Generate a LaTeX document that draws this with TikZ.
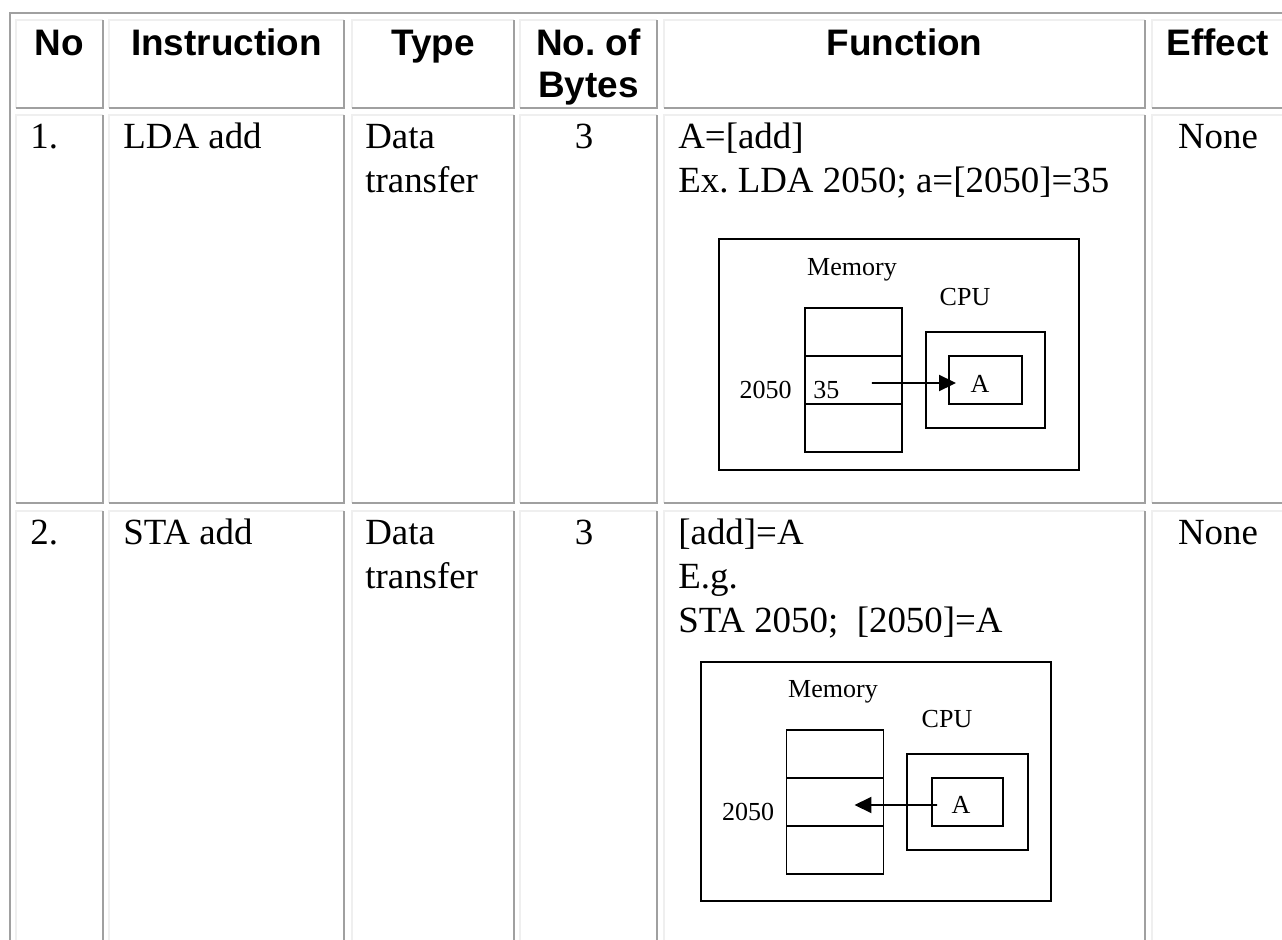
\documentclass[tikz,border=0pt]{standalone}
\usepackage{fontspec}
\setmainfont{Liberation Serif}
\setsansfont{Liberation Sans}
\usepackage{tikz}
\usetikzlibrary{arrows.meta, positioning, calc}
\definecolor{Ink}{HTML}{000000}
\definecolor{Edge}{HTML}{A0A0A0}
\definecolor{Lite}{HTML}{EFEFEF}

\begin{document}
\begin{tikzpicture}[
  x=0.02cm, y=-0.02cm,
  cellhi/.style={draw=Lite, line width=1.1pt},
  celllo/.style={draw=Edge, line width=1.1pt},
  head/.style={font=\sffamily\bfseries\fontsize{21}{23.8}\selectfont, align=center, anchor=base, inner sep=0pt},
  body/.style={font=\fontsize{21}{25}\selectfont, align=left, anchor=base west, inner sep=0pt},
  dlabel/.style={font=\fontsize{14.8}{17}\selectfont, anchor=base, inner sep=0pt},
  dbox/.style={draw=Ink, line width=1.1pt, inner sep=0pt},
  memcell/.style={dbox, minimum width=1.94cm, minimum height=0.96cm, outer sep=0pt},
  arrow/.style={-{Triangle[length=0.34cm, width=0.32cm]}, line width=1.1pt, draw=Ink}
]
\useasboundingbox (0,0) rectangle (1282,940);

\draw[celllo] (10,960) -- (10,13) -- (1300,13);
\foreach \xa/\xb in {16/103, 109/344, 352/514, 520/657, 664/1145, 1152/1300}
  \foreach \ya/\yb in {20/108, 115/503, 511/960}{
    \draw[cellhi] (\xa,\yb) -- (\xa,\ya) -- (\xb,\ya);
    \draw[celllo] (\xb,\ya) -- (\xb,\yb) -- (\xa,\yb);
  }

% base anchor of a multi-line node sits on its last line
\node[head] (hNo) at (59.5,55) {No};
\node[head] (hIns) at (226.5,55) {Instruction};
\node[head] (hType) at (433,55) {Type};
\node[head] (hBytes) at (588.5,97) {No.\ of\\Bytes};
\node[head] (hFunc) at (904.5,55) {Function};
\node[head] (hEff) at (1218,55) {Effect};

\node[body] (no1) at (30,148) {1.};
\node[body] (ins1) at (123,148) {LDA add};
\node[body] (type1) at (365,192) {Data\\transfer};
\node[body, anchor=base] (byte1) at (584,148) {3};
\node[body] (fun1) at (678,192) {A=[add]\\Ex.\ LDA 2050; a=[2050]=35};
\node[body, anchor=base] (eff1) at (1218,148) {None};

\node[body] (no2) at (30,544) {2.};
\node[body] (ins2) at (123,544) {STA add};
\node[body] (type2) at (365,588) {Data\\transfer};
\node[body, anchor=base] (byte2) at (584,544) {3};
\node[body] (fun2) at (678,632) {[add]=A\\E.g.\\STA 2050;~ [2050]=A};
\node[body, anchor=base] (eff2) at (1218,544) {None};

\node[dbox, minimum width=7.2cm, minimum height=4.62cm] (frameA) at (899,354.5) {};
\node[dlabel] (memLblA) at (852,275) {Memory};
\node[dlabel] (cpuLblA) at (965,305) {CPU};
\node[memcell] (memA1) at (853.5,332) {};
\node[memcell, below=0pt of memA1] (memA2) {};
\node[memcell, below=0pt of memA2] (memA3) {};
\node[dlabel] (addrA) at (765.5,398) {2050};
\node[dlabel, anchor=base west] (valA) at (813,398) {35};
\node[dbox, minimum width=2.38cm, minimum height=1.92cm] (cpuA) at (985.5,380) {};
\node[dbox, minimum width=1.46cm, minimum height=0.96cm] (regA) at (985.5,380) {};
\node[dlabel] (accA) at (980,392) {A};
\draw[arrow] ($(memA2.east)+(-30,3)$) -- ($(regA.west)+(8,3)$);

\node[dbox, minimum width=7cm, minimum height=4.78cm] (frameB) at (876,781.5) {};
\node[dlabel] (memLblB) at (833,697) {Memory};
\node[dlabel] (cpuLblB) at (947,727) {CPU};
\node[memcell] (memB1) at (835,754) {};
\node[memcell, below=0pt of memB1] (memB2) {};
\node[memcell, below=0pt of memB2] (memB3) {};
\node[dlabel] (addrB) at (748,820) {2050};
\node[dbox, minimum width=2.42cm, minimum height=1.92cm] (cpuB) at (967.5,802) {};
\node[dbox, minimum width=1.42cm, minimum height=0.96cm] (regB) at (967.5,802) {};
\node[dlabel] (accB) at (961,813) {A};
\draw[arrow] ($(regB.west)+(6,3)$) -- ($(memB2.east)+(-29,3)$);
\end{tikzpicture}
\end{document}
